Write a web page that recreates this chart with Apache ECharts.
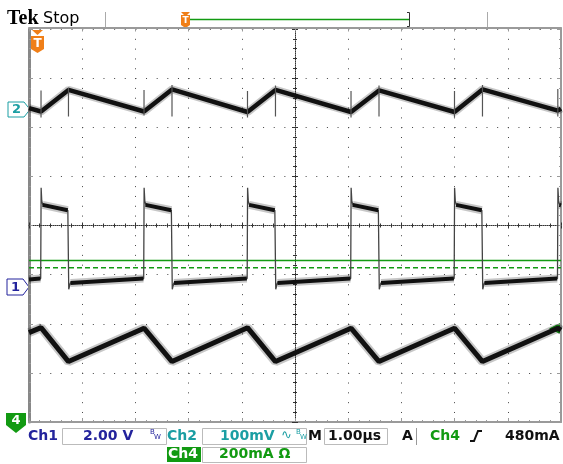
<!DOCTYPE html>
<html><head><meta charset="utf-8">
<script src="https://cdn.jsdelivr.net/npm/echarts@6/dist/echarts.min.js"></script>
<style>html,body{margin:0;padding:0;background:#fff}#c{width:563px;height:464px}</style>
</head><body><div id="c"></div>
<script>
// time in microseconds (1.00 us/div), vertical in divisions (centre = 0)
const ch1Path = [
  [0,-1.10],[0.22,-1.08],[0.228,0.77],[0.24,0.50],[0.26,0.42],[0.73,0.31],[0.747,-1.30],[0.777,-1.17],
  [2.156,-1.08],[2.164,0.77],[2.177,0.50],[2.197,0.42],[2.676,0.31],[2.693,-1.30],[2.723,-1.17],
  [4.101,-1.08],[4.109,0.77],[4.122,0.50],[4.142,0.42],[4.621,0.31],[4.638,-1.30],[4.668,-1.17],
  [6.047,-1.08],[6.055,0.77],[6.068,0.50],[6.088,0.42],[6.567,0.31],[6.584,-1.30],[6.614,-1.17],
  [7.992,-1.08],[8.000,0.77],[8.013,0.50],[8.033,0.42],[8.512,0.31],[8.529,-1.30],[8.559,-1.17],
  [9.934,-1.08],[9.942,0.77],[9.955,0.50],[9.975,0.42],[10,0.41]
];
const ch1Band = [
  [0,-1.10],[0.215,-1.08],[0.24,null],
  [0.255,0.42],[0.728,0.31],[0.75,null],
  [0.78,-1.17],[2.15,-1.08],[2.17,null],
  [2.19,0.42],[2.674,0.31],[2.70,null],
  [2.726,-1.17],[4.095,-1.08],[4.11,null],
  [4.137,0.42],[4.619,0.31],[4.64,null],
  [4.671,-1.17],[6.041,-1.08],[6.06,null],
  [6.083,0.42],[6.565,0.31],[6.59,null],
  [6.617,-1.17],[7.986,-1.08],[8.0,null],
  [8.028,0.42],[8.51,0.31],[8.53,null],
  [8.562,-1.17],[9.928,-1.08],[9.95,null],
  [9.97,0.42],[10,0.41]
];
const ch2Trace = [
  [0,2.39],[0.226,2.32],[0.742,2.76],[2.162,2.32],[2.688,2.77],[4.107,2.31],[4.633,2.76],
  [6.053,2.31],[6.579,2.75],[7.998,2.31],[8.524,2.77],[9.94,2.34],[10,2.38]
];
const ch2Spikes = [
  [0.226,2.75],[0.226,2.20],[0.5,null],[0.742,2.81],[0.742,2.22],[1.5,null],
  [2.162,2.76],[2.162,2.24],[2.4,null],[2.688,2.86],[2.688,2.22],[3.5,null],
  [4.107,2.74],[4.107,2.20],[4.4,null],[4.633,2.85],[4.633,2.22],[5.5,null],
  [6.053,2.74],[6.053,2.20],[6.3,null],[6.579,2.85],[6.579,2.22],[7.5,null],
  [7.998,2.74],[7.998,2.20],[8.2,null],[8.524,2.86],[8.524,2.22],[9.5,null],
  [9.94,2.78],[9.94,2.22]
];
const ch4Trace = [
  [0,-2.18],[0.226,-2.08],[0.742,-2.77],[2.162,-2.09],[2.688,-2.77],[4.107,-2.08],[4.633,-2.77],
  [6.053,-2.09],[6.579,-2.77],[7.998,-2.09],[8.524,-2.77],[9.94,-2.09],[10,-2.13]
];
const levelSolid = [[0,-0.71],[10,-0.71]];
const levelDashed = [[0,-0.86],[10,-0.86]];

const xMin = 0, xMax = 10, yMin = -4, yMax = 4;
const GL = 29, GT = 29, GW = 532, GH = 393;

const BLUE = '#23239c', TEAL = '#1b9ea3', GREEN = '#129a12', ORANGE = '#f07f18', BORDER = '#9a9a9a';
const FONT = 'bold 14px "DejaVu Sans"';

function xAx(opts) {
  return Object.assign({
    type: 'value', min: xMin, max: xMax, interval: 1, axisLabel: {show: false},
    splitLine: {show: false}, minorTick: {show: true, splitNumber: 5, length: 2, lineStyle: {color: BORDER}},
    axisTick: {show: true, inside: true, length: 4, lineStyle: {color: BORDER}},
    axisLine: {show: true, onZero: false, lineStyle: {color: BORDER, width: 2}}
  }, opts);
}
function yAx(opts) {
  return Object.assign({
    type: 'value', min: yMin, max: yMax, interval: 1, axisLabel: {show: false},
    splitLine: {show: false}, minorTick: {show: true, splitNumber: 5, length: 2, lineStyle: {color: BORDER}},
    axisTick: {show: true, inside: true, length: 4, lineStyle: {color: BORDER}},
    axisLine: {show: true, onZero: false, lineStyle: {color: BORDER, width: 2}}
  }, opts);
}
const centreTick = {show: true, length: 3, lineStyle: {color: '#333'}};
const centreMinor = {show: true, splitNumber: 5, length: 2, lineStyle: {color: '#333'}};

const option = {
  animation: false,
  backgroundColor: '#fff',
  grid: {left: GL, top: GT, width: GW, height: GH, containLabel: false},
  xAxis: [
    xAx({position: 'bottom', splitLine: {show: true, lineStyle: {color: '#444', width: 1, type: [1, 8.82]}}}),
    xAx({position: 'top', offset: 1.5}),
    xAx({position: 'bottom', offset: -GH/2, axisLine: {show: true, onZero: false, lineStyle: {color: '#333', width: 1, type: [1, 1]}},
         axisTick: Object.assign({inside: true}, centreTick), minorTick: centreMinor}),
    xAx({position: 'bottom', offset: -GH/2, axisLine: {show: false, onZero: false},
         axisTick: Object.assign({inside: false}, centreTick), minorTick: centreMinor})
  ],
  yAxis: [
    yAx({position: 'left', splitLine: {show: true, lineStyle: {color: '#444', width: 1, type: [1, 9.64]}},
         axisLine: {show: true, onZero: false, lineStyle: {color: '#888', width: 3}}}),
    yAx({position: 'right'}),
    yAx({position: 'left', offset: -GW/2, axisLine: {show: true, onZero: false, lineStyle: {color: '#333', width: 1, type: [1, 1]}},
         axisTick: Object.assign({inside: true}, centreTick), minorTick: centreMinor}),
    yAx({position: 'left', offset: -GW/2, axisLine: {show: false, onZero: false},
         axisTick: Object.assign({inside: false}, centreTick), minorTick: centreMinor})
  ],
  series: [
    {type: 'line', data: levelSolid, symbol: 'none', lineStyle: {color: GREEN, width: 1.5}, z: 3},
    {type: 'line', data: levelDashed, symbol: 'none', lineStyle: {color: GREEN, width: 1.5, type: [5, 3]}, z: 3},
    // Ch2
    {type: 'line', data: ch2Trace, symbol: 'none', lineStyle: {color: 'rgba(0,0,0,0.22)', width: 8}, z: 4},
    {type: 'line', data: ch2Trace, symbol: 'none', lineStyle: {color: '#111', width: 4.5}, z: 5},
    {type: 'line', data: ch2Spikes, symbol: 'none', connectNulls: false, lineStyle: {color: '#555', width: 1.2}, z: 5},
    // Ch1
    {type: 'line', data: ch1Path, symbol: 'none', lineStyle: {color: '#444', width: 1.3}, z: 5},
    {type: 'line', data: ch1Band, symbol: 'none', connectNulls: false, lineStyle: {color: 'rgba(0,0,0,0.22)', width: 8}, z: 4},
    {type: 'line', data: ch1Band, symbol: 'none', connectNulls: false, lineStyle: {color: '#111', width: 4}, z: 5},
    // Ch4
    {type: 'line', data: ch4Trace, symbol: 'none', lineStyle: {color: 'rgba(0,0,0,0.22)', width: 9}, z: 4},
    {type: 'line', data: ch4Trace, symbol: 'none', lineStyle: {color: '#111', width: 5}, z: 5}
  ],
  graphic: [
    // header
    {type: 'text', x: 7, y: 18.5, style: {text: 'Tek', font: 'bold 20px "Liberation Serif"', fill: '#000', textVerticalAlign: 'middle'}},
    {type: 'text', x: 43, y: 19, style: {text: 'Stop', font: '16px "DejaVu Sans"', fill: '#000', textVerticalAlign: 'middle'}},
    {type: 'line', shape: {x1: 105.5, y1: 12, x2: 105.5, y2: 27}, style: {stroke: '#aaa', lineWidth: 1}},
    {type: 'line', shape: {x1: 487.5, y1: 12, x2: 487.5, y2: 27}, style: {stroke: '#aaa', lineWidth: 1}},
    {type: 'line', shape: {x1: 186, y1: 19.5, x2: 409, y2: 19.5}, style: {stroke: GREEN, lineWidth: 1.5}},
    {type: 'polyline', shape: {points: [[407, 12.5], [409.5, 12.5], [409.5, 26.5], [407, 26.5]]}, style: {stroke: '#333', lineWidth: 1, fill: null}},
    {type: 'polygon', shape: {points: [[181, 12], [190, 12], [187, 15], [190, 15], [190, 25], [185.5, 28], [181, 25], [181, 15], [184, 15]]}, style: {fill: ORANGE}},
    {type: 'text', x: 185.5, y: 20.5, style: {text: 'T', font: 'bold 9px "DejaVu Sans"', fill: '#fff', textAlign: 'center', textVerticalAlign: 'middle'}},
    // trigger position marker
    {type: 'polygon', shape: {points: [[32, 30], [43, 30], [37.5, 35]]}, style: {fill: ORANGE}},
    {type: 'polygon', shape: {points: [[31, 36], [44, 36], [44, 49], [37.5, 53], [31, 49]]}, style: {fill: ORANGE}},
    {type: 'text', x: 37.5, y: 44, style: {text: 'T', font: 'bold 12px "DejaVu Sans"', fill: '#fff', textAlign: 'center', textVerticalAlign: 'middle'}},
    // channel markers
    {type: 'polygon', shape: {points: [[8, 102], [24, 102], [30, 109.5], [24, 117], [8, 117]]}, style: {fill: '#fff', stroke: TEAL, lineWidth: 1}},
    {type: 'text', x: 16.5, y: 110, style: {text: '2', font: 'bold 13px "DejaVu Sans"', fill: TEAL, textAlign: 'center', textVerticalAlign: 'middle'}},
    {type: 'polygon', shape: {points: [[7, 279], [23, 279], [29, 287], [23, 295], [7, 295]]}, style: {fill: '#fff', stroke: BLUE, lineWidth: 1}},
    {type: 'text', x: 15.5, y: 287.5, style: {text: '1', font: 'bold 13px "DejaVu Sans"', fill: BLUE, textAlign: 'center', textVerticalAlign: 'middle'}},
    {type: 'polygon', shape: {points: [[6, 413], [26, 413], [26, 425], [16, 433], [6, 425]]}, style: {fill: GREEN}},
    {type: 'text', x: 16, y: 421, style: {text: '4', font: 'bold 13px "DejaVu Sans"', fill: '#fff', textAlign: 'center', textVerticalAlign: 'middle'}},
    // trigger level arrow
    {type: 'polygon', shape: {points: [[549, 328.5], [560, 323], [560, 334]]}, style: {fill: GREEN}},
    // status bar row 1
    {type: 'text', x: 28, y: 436, style: {text: 'Ch1', font: FONT, fill: BLUE, textVerticalAlign: 'middle'}},
    {type: 'rect', shape: {x: 62.5, y: 428.5, width: 104, height: 16}, style: {fill: '#fff', stroke: '#bbb', lineWidth: 1}},
    {type: 'text', x: 83, y: 436, style: {text: '2.00 V', font: FONT, fill: BLUE, textVerticalAlign: 'middle'}},
    {type: 'text', x: 150, y: 432, style: {text: 'B', font: '7px "DejaVu Sans"', fill: BLUE, textVerticalAlign: 'middle'}},
    {type: 'text', x: 154, y: 437, style: {text: 'W', font: '7px "DejaVu Sans"', fill: BLUE, textVerticalAlign: 'middle'}},
    {type: 'text', x: 167, y: 436, style: {text: 'Ch2', font: FONT, fill: TEAL, textVerticalAlign: 'middle'}},
    {type: 'rect', shape: {x: 202.5, y: 428.5, width: 104, height: 16}, style: {fill: '#fff', stroke: '#bbb', lineWidth: 1}},
    {type: 'text', x: 220, y: 436, style: {text: '100mV', font: FONT, fill: TEAL, textVerticalAlign: 'middle'}},
    {type: 'text', x: 281, y: 436, style: {text: '∿', font: '13px "DejaVu Sans"', fill: TEAL, textVerticalAlign: 'middle'}},
    {type: 'text', x: 296, y: 432, style: {text: 'B', font: '7px "DejaVu Sans"', fill: TEAL, textVerticalAlign: 'middle'}},
    {type: 'text', x: 300, y: 437, style: {text: 'W', font: '7px "DejaVu Sans"', fill: TEAL, textVerticalAlign: 'middle'}},
    {type: 'text', x: 308, y: 436, style: {text: 'M', font: FONT, fill: '#111', textVerticalAlign: 'middle'}},
    {type: 'rect', shape: {x: 324.5, y: 428.5, width: 63, height: 16}, style: {fill: '#fff', stroke: '#bbb', lineWidth: 1}},
    {type: 'text', x: 328, y: 436, style: {text: '1.00µs', font: FONT, fill: '#111', textVerticalAlign: 'middle'}},
    {type: 'text', x: 402, y: 436, style: {text: 'A', font: FONT, fill: '#111', textVerticalAlign: 'middle'}},
    {type: 'line', shape: {x1: 416.5, y1: 428, x2: 416.5, y2: 445}, style: {stroke: '#999', lineWidth: 1}},
    {type: 'text', x: 430, y: 436, style: {text: 'Ch4', font: FONT, fill: GREEN, textVerticalAlign: 'middle'}},
    {type: 'polyline', shape: {points: [[470, 441], [474, 441], [478, 431], [482, 431]]}, style: {stroke: '#111', lineWidth: 2, fill: null}},
    {type: 'text', x: 505, y: 436, style: {text: '480mA', font: FONT, fill: '#111', textVerticalAlign: 'middle'}},
    // status bar row 2
    {type: 'rect', shape: {x: 167, y: 447, width: 34, height: 15}, style: {fill: GREEN}},
    {type: 'text', x: 168, y: 454.5, style: {text: 'Ch4', font: FONT, fill: '#fff', textVerticalAlign: 'middle'}},
    {type: 'rect', shape: {x: 202.5, y: 447.5, width: 104, height: 15}, style: {fill: '#fff', stroke: '#bbb', lineWidth: 1}},
    {type: 'text', x: 219, y: 454.5, style: {text: '200mA Ω', font: FONT, fill: GREEN, textVerticalAlign: 'middle'}}
  ]
};
const chart = echarts.init(document.getElementById('c'), null, {renderer: 'canvas'});
chart.setOption(option);
</script></body></html>
